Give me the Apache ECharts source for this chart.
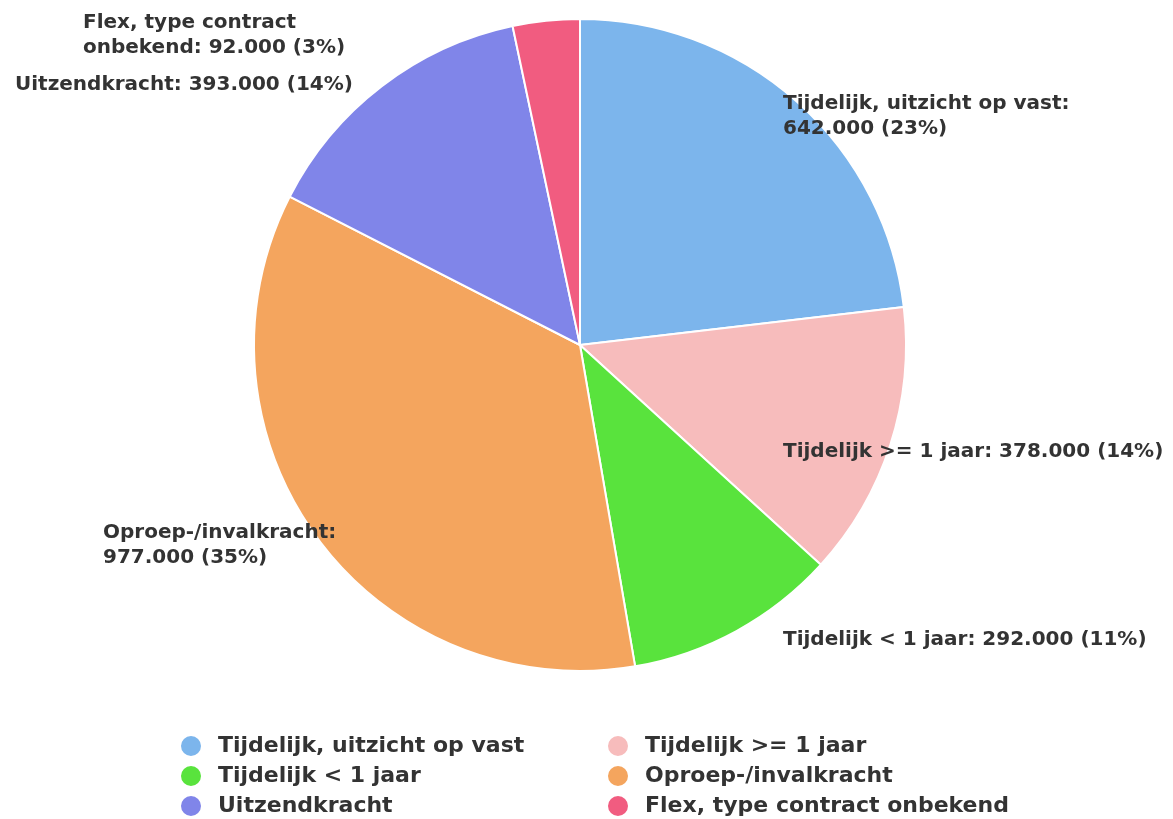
<!DOCTYPE html>
<html>
<head>
<meta charset="utf-8">
<script src="https://cdn.jsdelivr.net/npm/echarts@6/dist/echarts.min.js"></script>
<style>
  html, body { margin: 0; padding: 0; background: #fff; }
  #chart { width: 1173px; height: 819px; }
</style>
</head>
<body>
<div id="chart"></div>
<script>
// categories and values (x 1000 workers)
const categories = [
  'Tijdelijk, uitzicht op vast',
  'Tijdelijk >= 1 jaar',
  'Tijdelijk < 1 jaar',
  'Oproep-/invalkracht',
  'Uitzendkracht',
  'Flex, type contract onbekend'
]
const values = [642, 378, 292, 977, 393, 92]
const labelNames = [
  'Tijdelijk, uitzicht op vast:\n',
  'Tijdelijk >= 1 jaar: ',
  'Tijdelijk < 1 jaar: ',
  'Oproep-/invalkracht:\n',
  'Uitzendkracht: ',
  'Flex, type contract\nonbekend: '
]
const colors = ['#7cb5ec', '#f7bcbc', '#59e33d', '#f4a55e', '#8085e9', '#f15c80']

// where each slice label sits (left/top of text block)
const labelPos = [
  [783, 91], [783, 439], [783, 627], [103, 520], [15, 72], [83, 10]
]

const total = values.reduce((a, b) => a + b, 0)
const fmt = (v) => v + '.000'

const chart = echarts.init(document.getElementById('chart'))
const font = '"DejaVu Sans", Verdana, sans-serif'

const legendBase = {
  orient: 'vertical',
  top: 729,
  height: 120,
  itemWidth: 22,
  itemHeight: 22,
  itemGap: 6,
  icon: 'circle',
  textStyle: { fontSize: 22, fontWeight: 'bold', color: '#333', fontFamily: font, padding: [0, 0, 0, 11] }
}

chart.setOption({
  animation: false,
  color: colors,
  textStyle: { fontFamily: font },
  legend: [
    Object.assign({}, legendBase, {
      left: 174,
      data: [categories[0], categories[2], categories[4]]
    }),
    Object.assign({}, legendBase, {
      left: 601,
      data: [categories[1], categories[3], categories[5]]
    })
  ],
  series: [
    {
      type: 'pie',
      center: [580, 345],
      radius: 326,
      startAngle: 90,
      clockwise: true,
      avoidLabelOverlap: false,
      itemStyle: { borderColor: '#fff', borderWidth: 2 },
      label: {
        show: true,
        position: 'outside',
        color: '#333',
        fontSize: 20,
        fontWeight: 'bold',
        lineHeight: 25,
        fontFamily: font,
        formatter: function (p) {
          const pct = Math.round(p.value / total * 100)
          return labelNames[p.dataIndex] + fmt(p.value) + ' (' + pct + '%)'
        }
      },
      labelLine: { show: false },
      labelLayout: function (p) {
        const pos = labelPos[p.dataIndex]
        return { x: pos[0], y: pos[1], align: 'left', verticalAlign: 'top' }
      },
      data: categories.map((c, i) => ({ name: c, value: values[i] }))
    }
  ]
})
</script>
</body>
</html>
